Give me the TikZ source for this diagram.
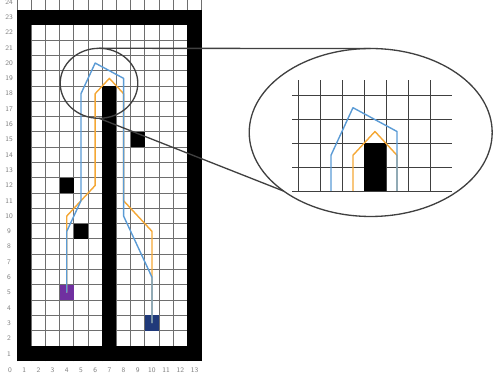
\documentclass[tikz,border=0pt]{standalone}
\usepackage{tikz}
\usetikzlibrary{shapes.geometric}

\definecolor{pathblue}{HTML}{5B9BD5}
\definecolor{pathorange}{HTML}{F4A735}
\definecolor{startpurple}{HTML}{7030A0}
\definecolor{goalnavy}{HTML}{203A7A}
\definecolor{gridgray}{HTML}{6E6E6E}
\definecolor{lensgray}{HTML}{404040}

\tikzset{
  wall/.style={fill=black},
  gridline/.style={draw=gridgray, line width=0.55pt},
  zoomgrid/.style={draw=black!75, line width=0.5pt},
  route/.style={line width=0.8pt, line join=round},
  lens/.style={ellipse, draw=lensgray, line width=0.75pt, inner sep=0pt, outer sep=0pt},
  lensline/.style={draw=lensgray, line width=0.75pt},
  ticklbl/.style={font=\sffamily\fontsize{4}{5}\selectfont, text=gray, inner sep=0pt}
}

\def\routeblue{(4,5)--(4,9)--(5,11)--(5,18)--(6,20)--(8,19)--(8,10)--(10,6)--(10,3)}
\def\routeorange{(4,5)--(4,10)--(6,12)--(6,18)--(7,19)--(8,18)--(8,11)--(10,9)--(10,3)}

\begin{document}
\begin{tikzpicture}[x=0.02cm,y=0.02cm]
  \useasboundingbox (0,0) rectangle (493,378);

  % warehouse map
  \begin{scope}[shift={(10,9)}, x=0.284cm, y=0.306cm]
    \foreach \i in {0,...,13}
      \draw[gridline] (\i+0.5,0.5) -- (\i+0.5,24.3);
    \foreach \j in {1,...,22}
      \draw[gridline] (0.5,\j+0.5) -- (13.5,\j+0.5);
    % walls
    \fill[wall] (0.5,0.5) rectangle (1.5,23.5);
    \fill[wall] (12.5,0.5) rectangle (13.5,23.5);
    \fill[wall] (0.5,22.5) rectangle (13.5,23.5);
    \fill[wall] (0.5,0.5) rectangle (13.5,1.5);
    \fill[wall] (6.5,0.5) rectangle (7.5,18.5);
    % obstacles
    \foreach \c/\r in {9/15, 4/12, 5/9}
      \fill[wall] (\c-0.5,\r-0.5) rectangle (\c+0.5,\r+0.5);
    \fill[startpurple] (3.5,4.5) rectangle (4.5,5.5);
    \fill[goalnavy] (9.5,2.5) rectangle (10.5,3.5);
    % routes
    \draw[route, pathorange] \routeorange;
    \draw[route, pathblue] \routeblue;
    % axis labels
    \foreach \i in {0,...,13}
      \node[ticklbl] (xl\i) at (\i,-0.07) {\i};
    \foreach \j in {1,...,24}
      \node[ticklbl] (yl\j) at (-0.07,\j) {\j};
  \end{scope}

  \node[lens, minimum width=1.552cm, minimum height=1.4cm] (zs) at (99,294.7) {};
  \node[lens, minimum width=4.86cm, minimum height=3.36cm] (zb) at (370.7,245.5) {};

  % magnified corner
  \begin{scope}[shift={(221,-205.6)}, x=0.44cm, y=0.476cm]
    \foreach \i in {3,...,9}
      \draw[zoomgrid] (\i+0.5,16.5) -- (\i+0.5,21.16);
    \foreach \j in {16,...,20}
      \draw[zoomgrid] (3.25,\j+0.5) -- (10.5,\j+0.5);
    \fill[wall] (6.5,16.5) rectangle (7.5,18.5);
    \begin{scope}
      \clip (3,16.5) rectangle (11,22);
      \draw[route, pathorange] \routeorange;
      \draw[route, pathblue] \routeblue;
    \end{scope}
  \end{scope}

  \draw[lensline] (zs.north) -- (zb.north);
  \draw[lensline] (zs.south) -- (zb.214);
\end{tikzpicture}
\end{document}
